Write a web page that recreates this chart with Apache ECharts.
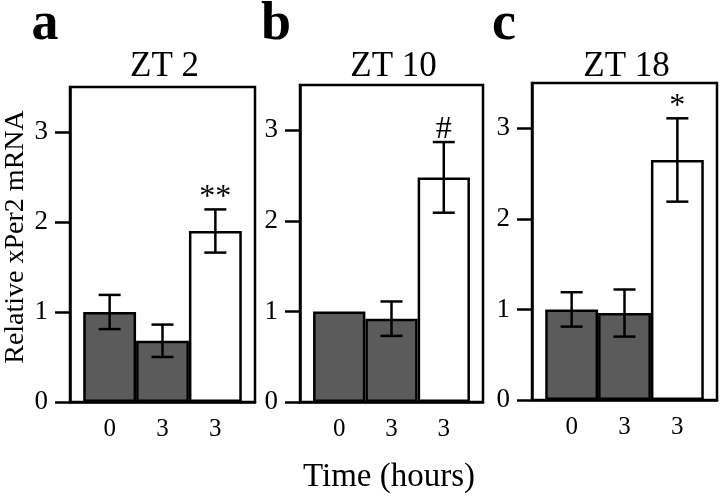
<!DOCTYPE html>
<html>
<head>
<meta charset="utf-8">
<script src="https://cdn.jsdelivr.net/npm/echarts@6/dist/echarts.min.js"></script>
<style>html,body{margin:0;padding:0;background:#fff}#c{width:720px;height:500px}</style>
</head>
<body>
<div id="c"></div>
<script>
// ---- data ----
const panelLetters = ['a', 'b', 'c'];
const panelTitles = ['ZT 2', 'ZT 10', 'ZT 18'];
const xTickLabels = ['0', '3', '3'];
const yTickValues = [0, 1, 2, 3];
const yAxisName = 'Relative xPer2 mRNA';
const xAxisName = 'Time (hours)';

const meansA = [1.00, 0.68, 1.90];
const errsA  = [0.19, 0.18, 0.24];
const marksA = ['', '', '**'];

const meansB = [1.00, 0.92, 2.48];
const errsB  = [0.00, 0.19, 0.39];
const marksB = ['', '', '#'];

const meansC = [1.00, 0.96, 2.65];
const errsC  = [0.19, 0.26, 0.46];
const marksC = ['', '', '*'];

const barFills = ['#5b5b5b', '#5b5b5b', '#ffffff'];

// ---- layout / style ----
const FONT = 'Liberation Serif';
const grids = [
  { left: 70, top: 87, width: 185, height: 315 },
  { left: 300, top: 85, width: 183, height: 317 },
  { left: 532, top: 83, width: 185, height: 317 }
];
const panels = [
  { means: meansA, errs: errsA, marks: marksA },
  { means: meansB, errs: errsB, marks: marksB },
  { means: meansC, errs: errsC, marks: marksC }
];
const LW = 2.5;

const option = {
  animation: false,
  backgroundColor: '#ffffff',
  grid: grids.map(g => Object.assign({ show: true, borderColor: '#000', borderWidth: LW, backgroundColor: 'transparent' }, g)),
  xAxis: grids.map((g, i) => ({
    type: 'value', gridIndex: i, min: -0.75, max: 2.75,
    axisLine: { show: true, onZero: false, lineStyle: { color: '#000', width: LW } },
    axisTick: { show: false },
    splitLine: { show: false },
    axisLabel: {
      customValues: [0, 1, 2],
      formatter: v => xTickLabels[Math.round(v)] || '',
      color: '#000', fontFamily: FONT, fontSize: 25, margin: 15
    }
  })),
  yAxis: grids.map((g, i) => ({
    type: 'value', gridIndex: i, min: 0, max: 3.5,
    axisLine: { show: true, onZero: false, lineStyle: { color: '#000', width: LW } },
    axisTick: { show: true, customValues: yTickValues, length: 15, lineStyle: { color: '#000', width: LW } },
    splitLine: { show: false },
    axisLabel: {
      customValues: yTickValues,
      color: '#000', fontFamily: FONT, fontSize: 27, margin: 22
    }
  })),
  series: [],
  graphic: []
};

panels.forEach((p, i) => {
  option.series.push({
    type: 'bar', xAxisIndex: i, yAxisIndex: i,
    barWidth: '100%',
    itemStyle: { borderColor: '#000', borderWidth: LW },
    data: p.means.map((m, j) => ({ value: [j, m], itemStyle: { color: barFills[j] } })),
    z: 2
  });
  option.series.push({
    type: 'custom', xAxisIndex: i, yAxisIndex: i, z: 5,
    data: p.means.map((m, j) => [j, m - p.errs[j], m + p.errs[j]]),
    renderItem: (params, api) => {
      const x = api.value(0), lo = api.value(1), hi = api.value(2);
      const top = api.coord([x, hi]);
      const bot = api.coord([x, lo]);
      const half = 11;
      const st = { stroke: '#000', lineWidth: LW };
      const children = [];
      if (hi > lo) {
        children.push({ type: 'line', shape: { x1: top[0], y1: top[1], x2: bot[0], y2: bot[1] }, style: st });
        children.push({ type: 'line', shape: { x1: top[0] - half, y1: top[1], x2: top[0] + half, y2: top[1] }, style: st });
        children.push({ type: 'line', shape: { x1: bot[0] - half, y1: bot[1], x2: bot[0] + half, y2: bot[1] }, style: st });
      }
      const mk = p.marks[params.dataIndex];
      if (mk) {
        children.push({
          type: 'text',
          style: { x: top[0], y: top[1] + 4, text: mk, align: 'center', verticalAlign: 'bottom',
                   font: '32px "' + FONT + '"', fill: '#000' }
        });
      }
      return { type: 'group', children };
    }
  });
});

// Panel letters and titles
const letterX = [45, 276, 504];
panelLetters.forEach((t, i) => {
  option.graphic.push({
    type: 'text', x: letterX[i], y: 25,
    style: { text: t, font: 'bold 54px "' + FONT + '"', fill: '#000', align: 'center', verticalAlign: 'middle' }
  });
  const g = grids[i];
  option.graphic.push({
    type: 'text', x: g.left + g.width / 2 + 2, y: 67,
    style: { text: panelTitles[i], font: '35px "' + FONT + '"', fill: '#000', align: 'center', verticalAlign: 'middle' }
  });
});
option.graphic.push({
  type: 'text', x: 16, y: 237, rotation: Math.PI / 2,
  style: { text: yAxisName, font: '28px "' + FONT + '"', fill: '#000', align: 'center', verticalAlign: 'middle' }
});
option.graphic.push({
  type: 'text', x: 389, y: 477,
  style: { text: xAxisName, font: '33px "' + FONT + '"', fill: '#000', align: 'center', verticalAlign: 'middle' }
});

const chart = echarts.init(document.getElementById('c'), null, { renderer: 'canvas' });
chart.setOption(option);
</script>
</body>
</html>
